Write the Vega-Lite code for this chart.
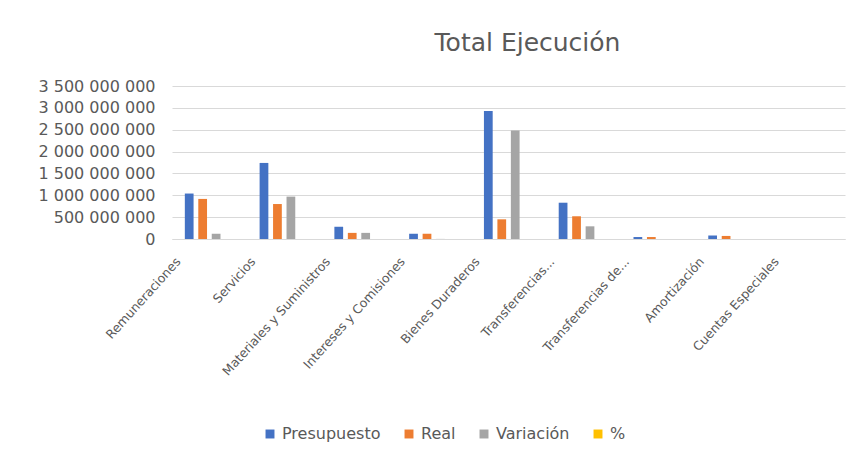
{
  "$schema": "https://vega.github.io/schema/vega-lite/v6.json",
  "width": 673,
  "height": 153,
  "autosize": "none",
  "padding": {"left": 172, "top": 86, "right": 12, "bottom": 223},
  "background": "white",
  "config": {
    "locale": {"number": {"decimal": ",", "thousands": " ", "grouping": [3], "currency": ["", ""]}},
    "font": "DejaVu Sans",
    "view": {"stroke": null}
  },
  "title": {
    "text": "Total Ejecución",
    "fontSize": 25,
    "fontWeight": "normal",
    "color": "#595959",
    "anchor": "middle",
    "baseline": "alphabetic",
    "offset": 2,
    "dx": 19
  },
  "data": {
    "values": [
      {"cat": "Remuneraciones", "serie": "Presupuesto", "valor": 1040000000},
      {"cat": "Remuneraciones", "serie": "Real", "valor": 917000000},
      {"cat": "Remuneraciones", "serie": "Variación", "valor": 120000000},
      {"cat": "Remuneraciones", "serie": "%", "valor": 0.88},
      {"cat": "Servicios", "serie": "Presupuesto", "valor": 1740000000},
      {"cat": "Servicios", "serie": "Real", "valor": 800000000},
      {"cat": "Servicios", "serie": "Variación", "valor": 970000000},
      {"cat": "Servicios", "serie": "%", "valor": 0.46},
      {"cat": "Materiales y Suministros", "serie": "Presupuesto", "valor": 280000000},
      {"cat": "Materiales y Suministros", "serie": "Real", "valor": 140000000},
      {"cat": "Materiales y Suministros", "serie": "Variación", "valor": 140000000},
      {"cat": "Materiales y Suministros", "serie": "%", "valor": 0.5},
      {"cat": "Intereses y Comisiones", "serie": "Presupuesto", "valor": 120000000},
      {"cat": "Intereses y Comisiones", "serie": "Real", "valor": 120000000},
      {"cat": "Intereses y Comisiones", "serie": "Variación", "valor": 2000000},
      {"cat": "Intereses y Comisiones", "serie": "%", "valor": 0.98},
      {"cat": "Bienes Duraderos", "serie": "Presupuesto", "valor": 2930000000},
      {"cat": "Bienes Duraderos", "serie": "Real", "valor": 450000000},
      {"cat": "Bienes Duraderos", "serie": "Variación", "valor": 2480000000},
      {"cat": "Bienes Duraderos", "serie": "%", "valor": 0.15},
      {"cat": "Transferencias...", "serie": "Presupuesto", "valor": 830000000},
      {"cat": "Transferencias...", "serie": "Real", "valor": 520000000},
      {"cat": "Transferencias...", "serie": "Variación", "valor": 290000000},
      {"cat": "Transferencias...", "serie": "%", "valor": 0.63},
      {"cat": "Transferencias de...", "serie": "Presupuesto", "valor": 45000000},
      {"cat": "Transferencias de...", "serie": "Real", "valor": 45000000},
      {"cat": "Transferencias de...", "serie": "Variación", "valor": 0},
      {"cat": "Transferencias de...", "serie": "%", "valor": 1.0},
      {"cat": "Amortización", "serie": "Presupuesto", "valor": 80000000},
      {"cat": "Amortización", "serie": "Real", "valor": 70000000},
      {"cat": "Amortización", "serie": "Variación", "valor": 0},
      {"cat": "Amortización", "serie": "%", "valor": 0.88},
      {"cat": "Cuentas Especiales", "serie": "Presupuesto", "valor": 0},
      {"cat": "Cuentas Especiales", "serie": "Real", "valor": 0},
      {"cat": "Cuentas Especiales", "serie": "Variación", "valor": 0},
      {"cat": "Cuentas Especiales", "serie": "%", "valor": 0}
    ]
  },
  "mark": {"type": "bar"},
  "encoding": {
    "x": {
      "field": "cat",
      "type": "nominal",
      "sort": null,
      "scale": {"paddingInner": 0.28, "paddingOuter": 0.14},
      "axis": {
        "title": null,
        "labelAngle": -48,
        "labelAlign": "right",
        "labelBaseline": "middle",
        "labelPadding": 20,
        "labelOffset": -31,
        "labelFontSize": 12.5,
        "labelColor": "#595959",
        "ticks": false,
        "domainColor": "#d9d9d9",
        "labelLimit": 300
      }
    },
    "xOffset": {
      "field": "serie",
      "type": "nominal",
      "sort": ["Presupuesto", "Real", "Variación", "%"],
      "scale": {"paddingInner": 0.35, "paddingOuter": 0.175}
    },
    "y": {
      "field": "valor",
      "type": "quantitative",
      "scale": {"domain": [0, 3500000000]},
      "axis": {
        "title": null,
        "values": [0, 500000000, 1000000000, 1500000000, 2000000000, 2500000000, 3000000000, 3500000000],
        "format": ",d",
        "labelFontSize": 16,
        "labelColor": "#595959",
        "labelPadding": 17,
        "ticks": false,
        "domain": false,
        "gridColor": "#d9d9d9"
      }
    },
    "color": {
      "field": "serie",
      "type": "nominal",
      "sort": ["Presupuesto", "Real", "Variación", "%"],
      "scale": {
        "domain": ["Presupuesto", "Real", "Variación", "%"],
        "range": ["#4472C4", "#ED7D31", "#A5A5A5", "#FFC000"]
      },
      "legend": {
        "title": null,
        "orient": "none",
        "direction": "horizontal",
        "legendX": 90,
        "legendY": 340,
        "padding": 0,
        "symbolType": "square",
        "symbolSize": 80,
        "symbolStrokeWidth": 0,
        "labelFontSize": 16,
        "labelColor": "#595959",
        "columnPadding": 20,
        "labelOffset": 4
      }
    }
  }
}
